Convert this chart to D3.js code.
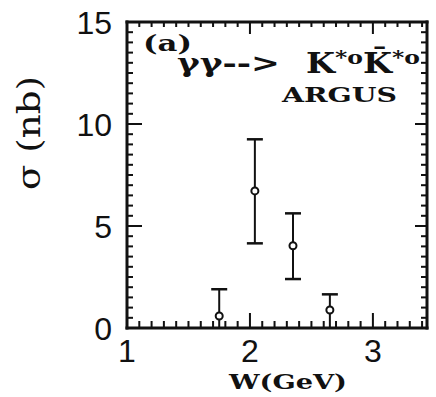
<!DOCTYPE html>
<html><head><meta charset="utf-8">
<script src="https://cdn.jsdelivr.net/npm/d3@7"></script>
<style>body{margin:0;background:#fff}svg{display:block}</style>
</head><body>
<script>
// Data
const W = [1.75, 2.04, 2.35, 2.65];
const sigma = [0.59, 6.72, 4.03, 0.88];
const errHi = [1.9, 9.25, 5.62, 1.65];
const errLo = [0, 4.15, 2.4, 0];
const yTickLabels = [0, 5, 10, 15];
const xTickLabels = [1, 2, 3];

const svg = d3.select("body").append("svg").attr("width", 436).attr("height", 397);
const x = d3.scaleLinear().domain([1, 3.44]).range([127, 427]);
const y = d3.scaleLinear().domain([0, 15]).range([328, 22]);
const ink = "#111";
const xMinor = d3.range(11, 35, 1).map(v => v / 10).filter(v => v !== 2 && v !== 3);
const xMajor = [2, 3];
const yMinor = d3.range(1, 30, 1).map(v => v / 2).filter(v => v % 5 !== 0);
const yMajor = [5, 10];

// frame and ticks as filled rectangles
const frame = svg.append("g").attr("fill", ink);
const L = x(1), R = x(3.44), T = y(15), B = y(0);
frame.append("rect").attr("x", L - 1.5).attr("y", T - 1.5).attr("width", R - L + 3).attr("height", 3);
frame.append("rect").attr("x", L - 1.5).attr("y", B - 1.5).attr("width", R - L + 3).attr("height", 3);
frame.append("rect").attr("x", L - 1.5).attr("y", T - 1.5).attr("width", 3).attr("height", B - T + 3);
frame.append("rect").attr("x", R - 1.5).attr("y", T - 1.5).attr("width", 3).attr("height", B - T + 3);
const xt = [
  ...xMinor.map(v => ({v, top: B - 7, h: 7})),
  ...xMajor.map(v => ({v, top: B - 15, h: 15})),
  ...xMinor.map(v => ({v, top: T, h: 5})),
  ...xMajor.map(v => ({v, top: T, h: 12}))
];
frame.selectAll("rect.xt").data(xt).join("rect").attr("class", "xt")
  .attr("x", d => x(d.v) - 1).attr("y", d => d.top).attr("width", 2).attr("height", d => d.h);
const yt = [
  ...yMinor.map(v => ({v, left: L, w: 6})),
  ...yMajor.map(v => ({v, left: L, w: 15})),
  ...yMinor.map(v => ({v, left: R - 6, w: 6})),
  ...yMajor.map(v => ({v, left: R - 12, w: 12}))
];
frame.selectAll("rect.yt").data(yt).join("rect").attr("class", "yt")
  .attr("x", d => d.left).attr("y", d => y(d.v) - 1).attr("width", d => d.w).attr("height", 2);

// error bars and points
W.forEach((w, i) => {
  const cx = x(w);
  svg.append("line").attr("x1", cx).attr("x2", cx).attr("y1", y(errHi[i])).attr("y2", y(errLo[i]))
    .attr("stroke", ink).attr("stroke-width", 2);
  svg.append("line").attr("x1", cx - 8).attr("x2", cx + 8).attr("y1", y(errHi[i])).attr("y2", y(errHi[i]))
    .attr("stroke", ink).attr("stroke-width", 2.5);
  if (errLo[i] > 0) {
    svg.append("line").attr("x1", cx - 8).attr("x2", cx + 8).attr("y1", y(errLo[i])).attr("y2", y(errLo[i]))
      .attr("stroke", ink).attr("stroke-width", 2.5);
  }
  svg.append("circle").attr("cx", cx).attr("cy", y(sigma[i])).attr("r", 3.5)
    .attr("fill", "#fff").attr("stroke", ink).attr("stroke-width", 2);
});

// tick labels
const sans = "Liberation Sans, Arial, sans-serif";
yTickLabels.forEach(v => svg.append("text").attr("x", 112).attr("y", y(v)).attr("dy", "0.36em")
  .attr("text-anchor", "end").attr("font-family", sans).attr("font-size", 32).attr("fill", ink).text(v));
xTickLabels.forEach(v => svg.append("text").attr("x", x(v)).attr("y", 362)
  .attr("text-anchor", "middle").attr("font-family", sans).attr("font-size", 32).attr("fill", ink).text(v));

// axis titles
const serif = "DejaVu Serif, Liberation Serif, serif";
svg.append("text").attr("x", 288).attr("y", 389).attr("text-anchor", "middle")
  .attr("font-family", serif).attr("font-weight", "bold").attr("font-size", 21).attr("fill", ink)
  .attr("textLength", 118).attr("lengthAdjust", "spacingAndGlyphs").text("W(GeV)");
svg.append("text").attr("transform", "translate(40,133) rotate(-90)").attr("text-anchor", "middle")
  .attr("font-family", serif).attr("font-size", 32).attr("fill", ink)
  .attr("textLength", 114).attr("lengthAdjust", "spacingAndGlyphs").text("σ (nb)");

// annotations
svg.append("text").attr("x", 143).attr("y", 51).attr("font-family", serif).attr("font-weight", "bold")
  .attr("font-size", 22).attr("fill", ink).attr("textLength", 49).attr("lengthAdjust", "spacingAndGlyphs").text("(a)");
svg.append("text").attr("x", 177).attr("y", 72).attr("font-family", serif).attr("font-weight", "bold")
  .attr("font-size", 26).attr("fill", ink).attr("textLength", 103).attr("lengthAdjust", "spacingAndGlyphs").text("γγ-->");
const kk = svg.append("text").attr("x", 306).attr("y", 73).attr("font-family", serif).attr("font-weight", "bold")
  .attr("font-size", 27).attr("fill", ink).attr("textLength", 114).attr("lengthAdjust", "spacingAndGlyphs");
kk.append("tspan").text("K");
kk.append("tspan").attr("font-size", 19).attr("dy", -9).text("*o");
kk.append("tspan").attr("font-size", 27).attr("dy", 9).text("K̄");
kk.append("tspan").attr("font-size", 19).attr("dy", -9).text("*o");
svg.append("text").attr("x", 282).attr("y", 102).attr("font-family", serif).attr("font-weight", "bold")
  .attr("font-size", 21).attr("fill", ink).attr("textLength", 115).attr("lengthAdjust", "spacingAndGlyphs").text("ARGUS");
</script>
</body></html>
